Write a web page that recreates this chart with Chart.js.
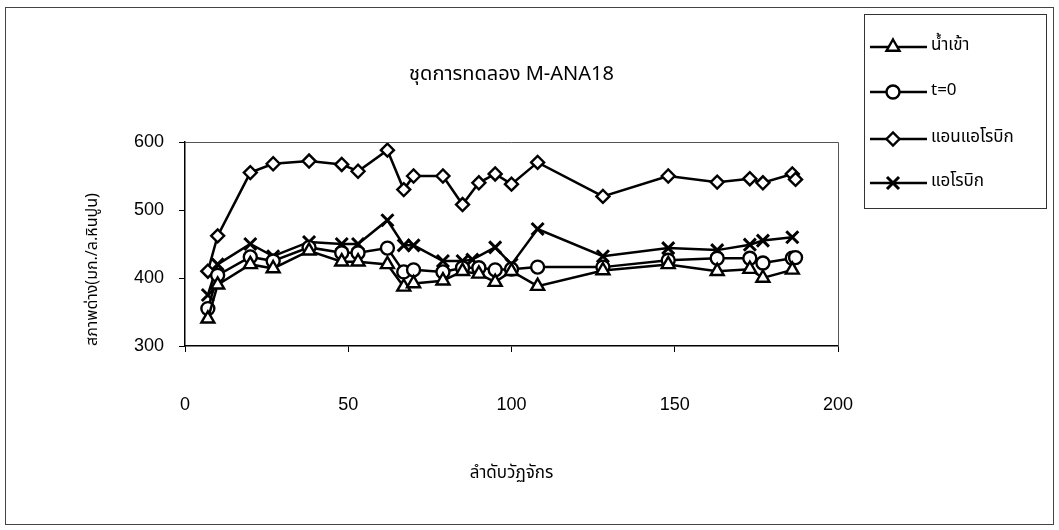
<!DOCTYPE html>
<html>
<head>
<meta charset="utf-8">
<script src="https://cdn.jsdelivr.net/npm/chart.js@4.4.1/dist/chart.umd.min.js"></script>
<style>
  html, body { margin: 0; padding: 0; background: #fff; }
  #wrap { width: 1059px; height: 530px; position: relative; }
</style>
</head>
<body>
<div id="wrap"><canvas id="c" width="1059" height="530"></canvas></div>
<script>
// Cycle numbers and alkalinity readings for each stream
const inflowCycles   = [7, 10, 20, 27, 38, 48, 53, 62, 67, 70, 79, 85, 90, 95, 100, 108, 128, 148, 163, 173, 177, 186];
const inflowValues   = [340, 390, 420, 414, 440, 424, 424, 420, 387, 392, 396, 410, 406, 394, 410, 388, 411, 420, 410, 413, 400, 412];

const t0Cycles       = [7, 10, 20, 27, 38, 48, 53, 62, 67, 70, 79, 85, 90, 95, 100, 108, 128, 148, 163, 173, 177, 186, 187];
const t0Values       = [355, 404, 431, 425, 445, 437, 437, 444, 409, 412, 409, 415, 415, 412, 413, 416, 416, 426, 429, 429, 422, 429, 430];

const anaerobicCycles = [7, 10, 20, 27, 38, 48, 53, 62, 67, 70, 79, 85, 90, 95, 100, 108, 128, 148, 163, 173, 177, 186, 187];
const anaerobicValues = [410, 462, 555, 568, 572, 567, 557, 588, 530, 550, 550, 508, 540, 553, 538, 570, 520, 550, 541, 546, 540, 553, 545];

const aerobicCycles  = [7, 10, 20, 27, 38, 48, 53, 62, 67, 70, 79, 85, 88, 95, 100, 108, 128, 148, 163, 173, 177, 186];
const aerobicValues  = [375, 420, 450, 432, 453, 450, 450, 485, 448, 448, 425, 425, 427, 445, 420, 472, 432, 444, 441, 449, 455, 460];

const seriesNames = ['น้ำเข้า', 't=0', 'แอนแอโรบิก', 'แอโรบิก'];
const markerStyles = ['triangle', 'circle', 'rectRot', 'crossRot'];

const chartTitle = 'ชุดการทดลอง M-ANA18';
const xTitle = 'ลำดับวัฏจักร';
const yTitle = 'สภาพด่าง(มก./ล.หินปูน)';

const thaiFont = "Tahoma, 'Noto Sans Thai', 'Noto Sans', 'DejaVu Sans', sans-serif";
const numFont = "'Liberation Sans', Arial, sans-serif";

function toPoints(xs, ys) { return xs.map((x, i) => ({ x: x, y: ys[i] })); }

const allX = [inflowCycles, t0Cycles, anaerobicCycles, aerobicCycles];
const allY = [inflowValues, t0Values, anaerobicValues, aerobicValues];

const markerRadius = style => (style === 'triangle' ? 7.5 : style === 'crossRot' ? 8.5 : 6.5);
const markerWidth = style => (style === 'crossRot' ? 3 : 2.4);

const datasets = seriesNames.map((name, i) => ({
  label: name,
  data: toPoints(allX[i], allY[i]),
  showLine: true,
  borderColor: '#000',
  borderWidth: 2.5,
  pointStyle: markerStyles[i],
  pointRadius: markerRadius(markerStyles[i]),
  pointBorderWidth: markerWidth(markerStyles[i]),
  pointBackgroundColor: '#fff',
  pointBorderColor: '#000',
  tension: 0
}));

// Page frame, plot box, heading and series key
const decor = {
  id: 'decor',
  beforeDraw(chart) {
    const ctx = chart.ctx;
    ctx.save();
    ctx.fillStyle = '#fff';
    ctx.fillRect(0, 0, chart.width, chart.height);
    ctx.strokeStyle = '#444';
    ctx.lineWidth = 1;
    ctx.strokeRect(5.5, 7.5, 1048, 517);
    ctx.restore();
  },
  afterDraw(chart) {
    const ctx = chart.ctx;
    const a = chart.chartArea;
    ctx.save();
    ctx.strokeStyle = '#555';
    ctx.lineWidth = 1;
    ctx.beginPath();
    ctx.moveTo(a.left, a.top + 0.5);
    ctx.lineTo(a.right + 0.5, a.top + 0.5);
    ctx.lineTo(a.right + 0.5, a.bottom);
    ctx.stroke();

    ctx.fillStyle = '#000';
    ctx.font = '20px ' + thaiFont;
    ctx.textAlign = 'center';
    ctx.textBaseline = 'middle';
    ctx.fillText(chartTitle, (a.left + a.right) / 2, 76);

    // key box
    ctx.strokeStyle = '#333';
    ctx.lineWidth = 1;
    ctx.strokeRect(864.5, 14.5, 182, 194);
    const rows = [47, 92, 139, 183];
    rows.forEach((yy, i) => {
      ctx.strokeStyle = '#000';
      ctx.lineWidth = 2.5;
      ctx.beginPath();
      ctx.moveTo(870, yy);
      ctx.lineTo(927, yy);
      ctx.stroke();
      ctx.fillStyle = '#fff';
      ctx.lineWidth = markerWidth(markerStyles[i]);
      Chart.helpers.drawPoint(ctx, {
        pointStyle: markerStyles[i],
        radius: markerRadius(markerStyles[i]),
        borderWidth: markerWidth(markerStyles[i]),
        rotation: 0
      }, 893, yy);
      ctx.fillStyle = '#000';
      ctx.font = '17px ' + thaiFont;
      ctx.textAlign = 'left';
      ctx.textBaseline = 'middle';
      ctx.fillText(seriesNames[i], 931, yy);
    });
    ctx.restore();
  }
};

new Chart(document.getElementById('c'), {
  type: 'scatter',
  data: { datasets: datasets },
  options: {
    responsive: false,
    animation: false,
    devicePixelRatio: 1,
    layout: { padding: { left: 0, top: 142, right: 221, bottom: 0 } },
    plugins: { legend: { display: false }, tooltip: { enabled: false } },
    scales: {
      x: {
        type: 'linear',
        min: 0, max: 200,
        ticks: { stepSize: 50, color: '#000', font: { family: numFont, size: 18 }, padding: 42 },
        grid: { drawOnChartArea: false, color: '#000', tickLength: 6 },
        border: { color: '#000', width: 1.5 },
        title: { display: true, text: xTitle, color: '#000', font: { family: thaiFont, size: 17 }, padding: { top: 0, bottom: 45 } },
        afterFit(scale) { scale.height = 184; }
      },
      y: {
        type: 'linear',
        min: 300, max: 600,
        ticks: { stepSize: 100, color: '#000', font: { family: numFont, size: 18 }, padding: 15 },
        grid: { drawOnChartArea: false, color: '#000', tickLength: 6 },
        border: { color: '#000', width: 1.5 },
        title: { display: true, text: yTitle, align: 'start', color: '#000', font: { family: thaiFont, size: 16 }, padding: { top: 84, bottom: 0 } },
        afterFit(scale) { scale.width = 185; }
      }
    }
  },
  plugins: [decor]
});
</script>
</body>
</html>
